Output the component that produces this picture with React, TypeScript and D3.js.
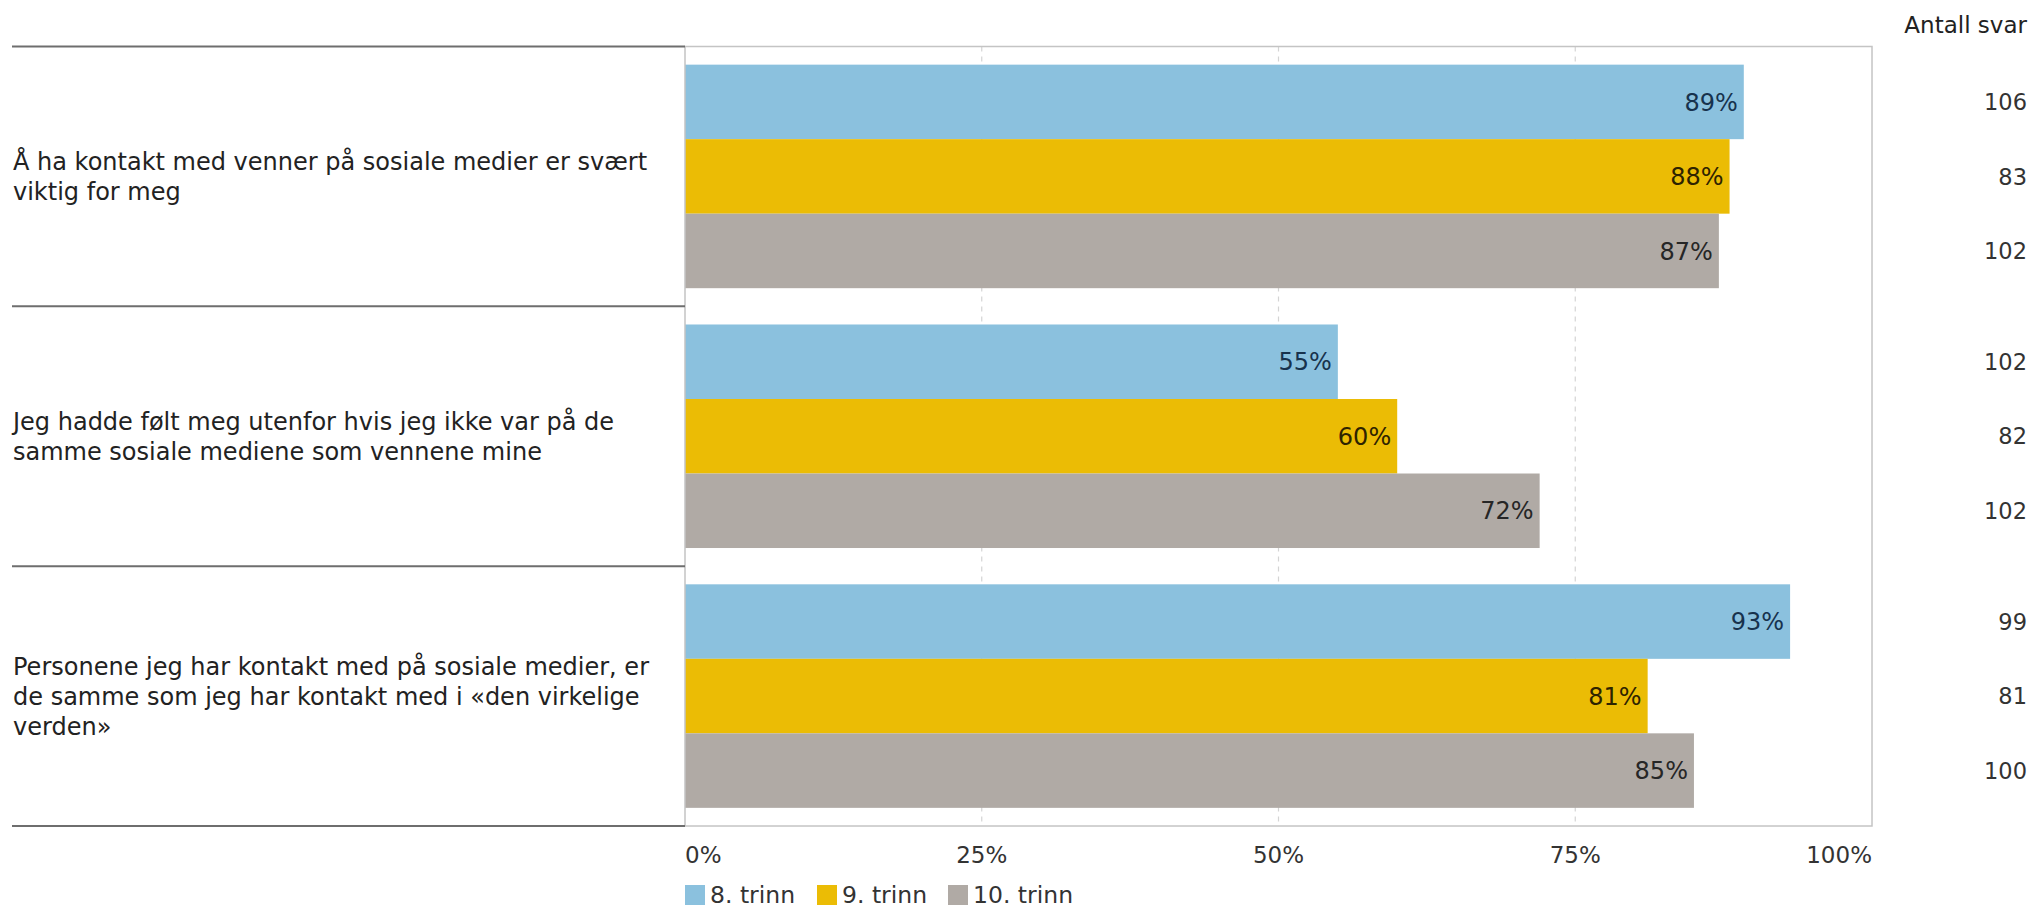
import React from "react";
import * as d3 from "d3";

const categories = [
  "Å ha kontakt med venner på sosiale medier er svært\nviktig for meg",
  "Jeg hadde følt meg utenfor hvis jeg ikke var på de\nsamme sosiale mediene som vennene mine",
  "Personene jeg har kontakt med på sosiale medier, er\nde samme som jeg har kontakt med i «den virkelige\nverden»",
];
const seriesNames = ["8. trinn", "9. trinn", "10. trinn"];
const values8 = [89.2, 55.0, 93.1];
const values9 = [88.0, 60.0, 81.1];
const values10 = [87.1, 72.0, 85.0];
const counts8 = [106, 102, 99];
const counts9 = [83, 82, 81];
const counts10 = [102, 102, 100];
const tickValues = [0, 25, 50, 75, 100];
const countHeader = "Antall svar";

const colors = ["#8BC1DE", "#EBBC05", "#B0AAA5"];
const labelColors = ["#17324d", "#2e2300", "#262626"];

const W = 2033;
const H = 908;
const FONT = "'DejaVu Sans', Verdana, sans-serif";

export default function App() {
  const seriesValues = [values8, values9, values10];
  const seriesCounts = [counts8, counts9, counts10];

  const x = d3.scaleLinear().domain([0, 100]).range([685, 1872]);
  const y = d3.scaleBand<string>().domain(categories).range([46.5, 826]).paddingInner(0).paddingOuter(0);
  const ySub = d3.scaleBand<string>().domain(seriesNames).range([0, y.bandwidth()]).paddingInner(0).paddingOuter(0.2436);

  const plotTop = y.range()[0];
  const plotBottom = y.range()[1];
  const boundaries = [...categories.map((c) => y(c) as number), plotBottom];

  const legendX = [685, 817, 948];

  return (
    <svg width={W} height={H} style={{ position: "absolute", left: 0, top: 0, background: "#fff" }} fontFamily={FONT}>
      {/* gridlines */}
      {tickValues.filter((t) => t > 0 && t < 100).map((t) => (
        <line key={"g" + t} x1={x(t)} x2={x(t)} y1={plotTop} y2={plotBottom} stroke="#d4d4d4" strokeWidth={1.2} strokeDasharray="5,5" />
      ))}

      {/* bars */}
      {categories.map((c, ci) => (
        <g key={"c" + ci}>
          {seriesNames.map((s, si) => {
            const v = seriesValues[si][ci];
            const yy = (y(c) as number) + (ySub(s) as number);
            const h = ySub.bandwidth();
            return (
              <g key={s}>
                <rect x={x(0)} y={yy} width={x(v) - x(0)} height={h} fill={colors[si]} />
                <text x={x(v) - 6} y={yy + h / 2} dy="0.36em" textAnchor="end" fontSize={24} fill={labelColors[si]}>
                  {Math.round(v) + "%"}
                </text>
                <text x={2027} y={yy + h / 2} dy="0.36em" textAnchor="end" fontSize={22.5} fill="#333">
                  {seriesCounts[si][ci]}
                </text>
              </g>
            );
          })}
        </g>
      ))}

      {/* plot frame */}
      <rect x={x(0)} y={plotTop} width={x(100) - x(0)} height={plotBottom - plotTop} fill="none" stroke="#c4c4c4" strokeWidth={1.5} />

      {/* left panel lines */}
      {boundaries.map((b, i) => (
        <line key={"b" + i} x1={12} x2={x(0)} y1={b} y2={b} stroke="#6e6e6e" strokeWidth={2} />
      ))}

      {/* category labels */}
      {categories.map((c, ci) => {
        const lines = c.split("\n");
        const lh = 30;
        const cy = (y(c) as number) + y.bandwidth() / 2;
        const startY = cy - ((lines.length - 1) * lh) / 2;
        return (
          <text key={"l" + ci} x={13} fontSize={24} fill="#222">
            {lines.map((ln, li) => (
              <tspan key={li} x={13} y={startY + li * lh} dy="0.36em">{ln}</tspan>
            ))}
          </text>
        );
      })}

      {/* count header */}
      <text x={2027} y={25} dy="0.36em" textAnchor="end" fontSize={23} fill="#222">{countHeader}</text>

      {/* x tick labels */}
      {tickValues.map((t, i) => (
        <text
          key={"t" + t}
          x={x(t)}
          y={855}
          dy="0.36em"
          fontSize={23}
          fill="#333"
          textAnchor={i === 0 ? "start" : i === tickValues.length - 1 ? "end" : "middle"}
        >
          {t + "%"}
        </text>
      ))}

      {/* legend */}
      {seriesNames.map((s, i) => (
        <g key={"lg" + i}>
          <rect x={legendX[i]} y={885} width={20} height={20} fill={colors[i]} />
          <text x={legendX[i] + 25} y={895} dy="0.36em" fontSize={23.5} fill="#333">{s}</text>
        </g>
      ))}
    </svg>
  );
}
